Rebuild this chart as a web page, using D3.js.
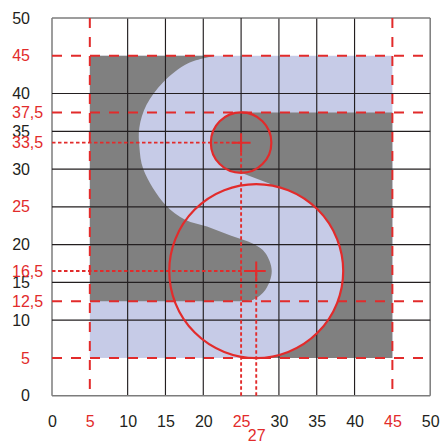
<!DOCTYPE html>
<html>
<head>
<meta charset="utf-8">
<script src="https://cdn.jsdelivr.net/npm/d3@7"></script>
<style>
  html, body { margin: 0; padding: 0; background: #fff; }
  svg { display: block; }
  text { font-family: "Liberation Sans", Arial, sans-serif; font-size: 16px; }
</style>
</head>
<body>
<svg id="chart" width="441" height="443"></svg>
<script>
'use strict';

const COLOR_RED   = '#e22b2b';
const COLOR_BLACK = '#231f20';
const COLOR_GRAY  = '#808080';
const COLOR_LIGHT = '#c6cbe7';

// Tick labels
const xTicksBlack = [0, 10, 15, 20, 30, 35, 40, 50];
const xTicksRed   = [5, 25, 45];
const xTicksLow   = [27];
const yTicksBlack = [0, 10, 15, 20, 30, 35, 40, 50];
const yTicksRed   = [5, 12.5, 16.5, 25, 33.5, 37.5, 45];

// Grid
const gridX = [0, 10, 15, 20, 30, 35, 40, 50];
const gridY = [0, 10, 15, 20, 25, 30, 35, 40, 50];

// Guide lines
const dashedX  = [5, 45];
const dashedY  = [5, 12.5, 37.5, 45];
const centers  = [[25, 33.5], [27, 16.5]];
const radii    = [4, 11.5];

// Shapes in data units
const squareCorners = [[5, 5], [45, 45]];
const leftCurve = [
  [21.6, 45], [18.0, 44.0], [14.7, 41.5], [12.5, 38.5], [11.55, 35.5], [11.55, 33],
  [12.1, 29.9], [14.95, 25.3], [17.6, 23.3], [20.5, 22.4], [23.6, 21.2], [26.6, 20.1],
  [28.2, 18.9], [29.05, 16.5], [28.2, 14], [26.6, 12.7], [24.9, 12.5]
];
const leftCorners  = [[5, 12.5], [5, 45]];
const rightPolygon = [[25, 37.5], [45, 37.5], [45, 5], [27, 5], [27, 20], [28.8, 28.05], [25, 29.5]];

const svg = d3.select('#chart');

const x = d3.scaleLinear().domain([0, 50]).range([52, 430.2]);
const y = d3.scaleLinear().domain([0, 50]).range([395.7, 18]);

const pxPerUnit = x(1) - x(0);

// ── Filled shapes ─────────────────────────────────────────────
svg.append('rect')
  .attr('x', x(squareCorners[0][0]))
  .attr('y', y(squareCorners[1][1]))
  .attr('width', x(squareCorners[1][0]) - x(squareCorners[0][0]))
  .attr('height', y(squareCorners[0][1]) - y(squareCorners[1][1]))
  .attr('fill', COLOR_LIGHT);

const straight = d3.line().x(d => x(d[0])).y(d => y(d[1]));
const curved   = d3.line().x(d => x(d[0])).y(d => y(d[1])).curve(d3.curveCatmullRom);

svg.append('path')
  .attr('d', straight(rightPolygon) + 'Z')
  .attr('fill', COLOR_GRAY);

svg.append('circle')
  .attr('cx', x(centers[0][0]))
  .attr('cy', y(centers[0][1]))
  .attr('r', radii[0] * pxPerUnit)
  .attr('fill', COLOR_GRAY);

svg.append('circle')
  .attr('cx', x(centers[1][0]))
  .attr('cy', y(centers[1][1]))
  .attr('r', radii[1] * pxPerUnit)
  .attr('fill', COLOR_LIGHT);

svg.append('path')
  .attr('d', curved(leftCurve) + straight(leftCorners).replace('M', 'L') + 'Z')
  .attr('fill', COLOR_GRAY);

// ── Grid ──────────────────────────────────────────────────────
const grid = svg.append('g');

grid.selectAll('line.v')
  .data(gridX)
  .join('line')
    .attr('class', 'v')
    .attr('x1', d => x(d)).attr('x2', d => x(d))
    .attr('y1', y(0)).attr('y2', y(50))
    .attr('stroke', d => (d === 0 || d === 50) ? '#7c7c7c' : COLOR_BLACK)
    .attr('stroke-width', d => (d === 0 || d === 50) ? 1.5 : 1.15);

grid.selectAll('line.h')
  .data(gridY)
  .join('line')
    .attr('class', 'h')
    .attr('x1', x(0)).attr('x2', x(50))
    .attr('y1', d => y(d)).attr('y2', d => y(d))
    .attr('stroke', d => (d === 0 || d === 50) ? '#7c7c7c' : COLOR_BLACK)
    .attr('stroke-width', d => (d === 0 || d === 50) ? 1.5 : 1.15);

// x = 25 only shows above the small circle's centre
grid.append('line')
  .attr('x1', x(25)).attr('x2', x(25))
  .attr('y1', y(50)).attr('y2', y(centers[0][1]))
  .attr('stroke', COLOR_BLACK)
  .attr('stroke-width', 1.15);

// ── Red guides ────────────────────────────────────────────────
const guides = svg.append('g').attr('stroke', COLOR_RED).attr('fill', 'none');

guides.selectAll('line.dx')
  .data(dashedX)
  .join('line')
    .attr('class', 'dx')
    .attr('x1', d => x(d)).attr('x2', d => x(d))
    .attr('y1', y(50)).attr('y2', y(0.5))
    .attr('stroke-width', 2)
    .attr('stroke-dasharray', '10 9');

guides.selectAll('line.dy')
  .data(dashedY)
  .join('line')
    .attr('class', 'dy')
    .attr('x1', x(0)).attr('x2', x(49.6))
    .attr('y1', d => y(d)).attr('y2', d => y(d))
    .attr('stroke-width', 2)
    .attr('stroke-dasharray', '10 9');

// Dotted leaders from the axes to each centre
guides.selectAll('line.lh')
  .data(centers)
  .join('line')
    .attr('class', 'lh')
    .attr('x1', x(0)).attr('x2', d => x(d[0]))
    .attr('y1', d => y(d[1])).attr('y2', d => y(d[1]))
    .attr('stroke-width', 1.9)
    .attr('stroke-dasharray', '3.5 2.5');

guides.selectAll('line.lv')
  .data(centers)
  .join('line')
    .attr('class', 'lv')
    .attr('x1', d => x(d[0])).attr('x2', d => x(d[0]))
    .attr('y1', y(0)).attr('y2', d => y(d[1]))
    .attr('stroke-width', 1.9)
    .attr('stroke-dasharray', '3.5 2.5');

// Centre crosses
const armLength = 9.5;
guides.selectAll('path.cross')
  .data(centers)
  .join('path')
    .attr('class', 'cross')
    .attr('d', d => `M${x(d[0]) - armLength},${y(d[1])}h${2 * armLength}M${x(d[0])},${y(d[1]) - armLength}v${2 * armLength}`)
    .attr('stroke-width', 2);

// Circles
guides.selectAll('circle')
  .data(centers)
  .join('circle')
    .attr('cx', d => x(d[0]))
    .attr('cy', d => y(d[1]))
    .attr('r', (d, i) => radii[i] * pxPerUnit)
    .attr('stroke-width', 2.2);

// ── Axes ──────────────────────────────────────────────────────
const fmt = d => String(d).replace('.', ',');

function xAxis(ticks, color, offset) {
  const g = svg.append('g')
    .attr('transform', `translate(0,${y(0) + offset})`)
    .call(d3.axisBottom(x).tickValues(ticks).tickFormat(fmt).tickSize(0).tickPadding(0));
  g.select('.domain').remove();
  g.selectAll('text').attr('fill', color).style('font-size', '16px');
}

function yAxis(ticks, color) {
  const g = svg.append('g')
    .attr('transform', 'translate(30,0)')
    .call(d3.axisLeft(y).tickValues(ticks).tickFormat(fmt).tickSize(0).tickPadding(0));
  g.select('.domain').remove();
  g.selectAll('text')
    .attr('fill', color)
    .style('font-size', '16px')
    // decimals start at the same left edge as the two digit labels
    .attr('text-anchor', d => Number.isInteger(d) ? 'end' : 'start')
    .attr('x', d => Number.isInteger(d) ? 0 : -18);
}

xAxis(xTicksBlack, COLOR_BLACK, 20);
xAxis(xTicksRed, COLOR_RED, 20);
xAxis(xTicksLow, COLOR_RED, 34);
yAxis(yTicksBlack, COLOR_BLACK);
yAxis(yTicksRed, COLOR_RED);
</script>
</body>
</html>
